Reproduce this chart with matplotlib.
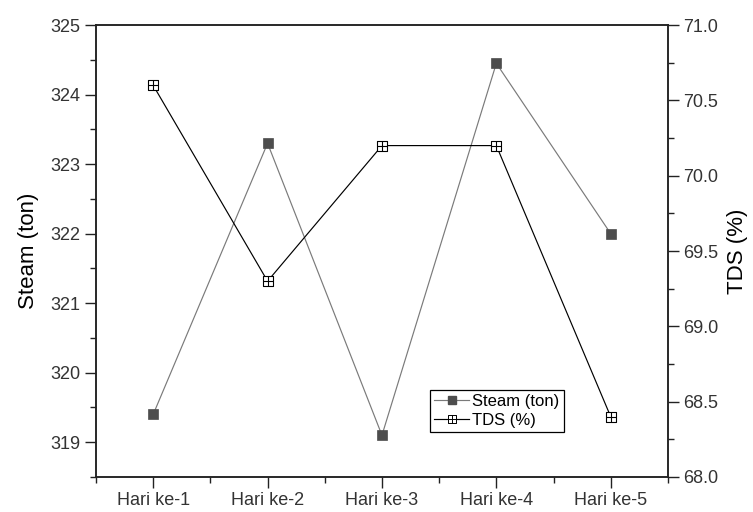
import matplotlib
matplotlib.use("Agg")
import matplotlib.pyplot as plt
from matplotlib.path import Path
from matplotlib.lines import Line2D
from matplotlib.ticker import MultipleLocator, FormatStrFormatter

plt.rcParams['font.family'] = ['Liberation Sans', 'DejaVu Sans']

days = ["Hari ke-1", "Hari ke-2", "Hari ke-3", "Hari ke-4", "Hari ke-5"]
steam_ton = [319.4, 323.3, 319.1, 324.45, 322.0]
tds_pct = [70.6, 69.3, 70.2, 70.2, 68.4]

x = list(range(1, len(days) + 1))

# square with a cross inside (boxed plus marker)
boxplus = Path(
    [(-1, -1), (1, -1), (1, 1), (-1, 1), (-1, -1),
     (0, -1), (0, 1), (-1, 0), (1, 0)],
    [Path.MOVETO, Path.LINETO, Path.LINETO, Path.LINETO, Path.CLOSEPOLY,
     Path.MOVETO, Path.LINETO, Path.MOVETO, Path.LINETO],
)

fig = plt.figure(figsize=(7.53, 5.12), dpi=100)
ax = fig.add_axes([0.1275, 0.0684, 0.7595, 0.8826])
ax2 = ax.twinx()

steam_color = "#4d4d4d"
ax.plot(x, steam_ton, color="#7a7a7a", lw=0.85, marker="s", ms=7,
        mfc=steam_color, mec=steam_color, mew=0.5, zorder=3)
ax2.plot(x, tds_pct, color="black", lw=0.85, marker=boxplus, ms=7,
         mfc="white", mec="black", mew=0.8, zorder=3)

ax.set_xlim(0.5, 5.5)
ax.set_ylim(318.5, 325)
ax2.set_ylim(68.0, 71.0)

ax.set_xticks(x)
ax.set_xticklabels(days)
ax.xaxis.set_minor_locator(MultipleLocator(0.5))
ax.yaxis.set_major_locator(MultipleLocator(1))
ax.yaxis.set_minor_locator(MultipleLocator(0.5))
ax2.yaxis.set_major_locator(MultipleLocator(0.5))
ax2.yaxis.set_minor_locator(MultipleLocator(0.25))
ax2.yaxis.set_major_formatter(FormatStrFormatter("%.1f"))

tick_color = "#222222"
for a in (ax, ax2):
    a.tick_params(which="major", direction="out", length=8, width=1.0,
                  labelsize=13, color=tick_color, labelcolor="#333333")
    a.tick_params(which="minor", direction="out", length=4.5, width=1.0,
                  color=tick_color)
    for s in a.spines.values():
        s.set_linewidth(1.1)
        s.set_color("#222222")
ax.tick_params(axis="x", which="both", top=False)
ax.tick_params(axis="x", pad=3)
ax.tick_params(axis="y", pad=3)
ax2.tick_params(axis="y", pad=3)

ax.set_ylabel("Steam (ton)", fontsize=16, labelpad=8)
ax2.set_ylabel("TDS (%)", fontsize=16, labelpad=6)

handles = [
    Line2D([], [], color="#7a7a7a", lw=0.85, marker="s", ms=6,
           mfc=steam_color, mec=steam_color),
    Line2D([], [], color="black", lw=0.85, marker=boxplus, ms=6,
           mfc="white", mec="black", mew=0.7),
]
leg = ax2.legend(handles, ["Steam (ton)", "TDS (%)"], loc="lower left",
                 bbox_to_anchor=(0.584, 0.1), fontsize=12,
                 frameon=True, fancybox=False, framealpha=1,
                 edgecolor="black", handlelength=2.1, handletextpad=0.2,
                 borderpad=0.25, labelspacing=0.2, borderaxespad=0)
leg.get_frame().set_linewidth(0.9)
leg.set_zorder(10)

fig.savefig("out.png", dpi=100)
